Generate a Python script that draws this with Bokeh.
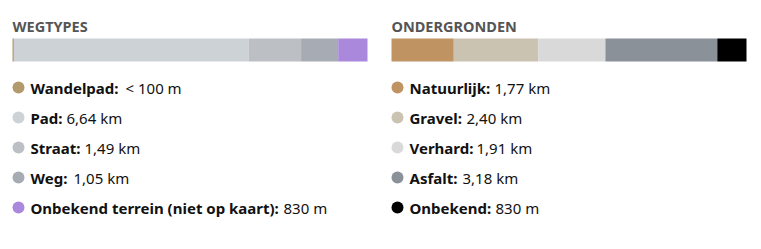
from bokeh.plotting import figure
from bokeh.models import Range1d, ColumnDataSource
from bokeh.core.properties import value
from bokeh.embed import file_html
from bokeh.resources import INLINE

# ---- data ----
weg_names = ["Wandelpad", "Pad", "Straat", "Weg", "Onbekend terrein (niet op kaart)"]
weg_km = [0.04, 6.64, 1.49, 1.05, 0.83]
weg_labels = ["< 100 m", "6,64 km", "1,49 km", "1,05 km", "830 m"]
weg_colors = ["#b39a6d", "#cdd2d7", "#bcc0c4", "#a7abb3", "#aa88dc"]

ond_names = ["Natuurlijk", "Gravel", "Verhard", "Asfalt", "Onbekend"]
ond_km = [1.77, 2.40, 1.91, 3.18, 0.83]
ond_labels = ["1,77 km", "2,40 km", "1,91 km", "3,18 km", "830 m"]
ond_colors = ["#c09362", "#cbc3b1", "#d9d9d9", "#8a9199", "#000000"]

titles = ["WEGTYPES", "ONDERGRONDEN"]

# ---- layout (pixels) ----
W, H = 761, 249
FONT = "Noto Sans"
panel_x = [12, 391]
bar_w = 355
bar_top, bar_bot = 38, 61
row_y = [87, 117, 147, 177, 207]
val_x = [[125, 66, 84, 73, 283], [494, 466, 476, 462, 495]]

p = figure(width=W, height=H, output_backend="svg", toolbar_location=None,
           x_range=Range1d(0, W), y_range=Range1d(H, 0), min_border=0,
           outline_line_color=None, background_fill_color="white",
           border_fill_color="white")
p.axis.visible = False
p.grid.visible = False

panels = [(weg_names, weg_km, weg_labels, weg_colors), (ond_names, ond_km, ond_labels, ond_colors)]
for i, (names, kms, labels, colors) in enumerate(panels):
    total = sum(kms)
    x0 = panel_x[i]
    start = -x0 * total / bar_w
    end = start + W * total / bar_w
    rn = f"km{i}"
    p.extra_x_ranges[rn] = Range1d(start, end)
    lefts, rights = [], []
    c = 0.0
    for k in kms:
        lefts.append(c)
        c += k
        rights.append(c)
    src = ColumnDataSource(dict(left=lefts, right=rights, color=colors))
    p.quad(left="left", right="right", top=bar_top, bottom=bar_bot, fill_color="color",
           line_color=None, source=src, x_range_name=rn)

    # title
    p.text(x=[x0], y=[25], text=[titles[i]], text_font=value(FONT), text_font_style="bold",
           text_font_size="14.5px", text_color="#555555", text_baseline="middle")

    # legend
    n = len(names)
    p.scatter(x=[x0 + 6] * n, y=row_y, size=12, color=colors, line_color=None)
    p.text(x=[x0 + 18] * n, y=row_y, text=[nm + ":" for nm in names], text_font=value(FONT),
           text_font_style="bold", text_font_size="15px", text_color="#111111",
           text_baseline="middle")
    p.text(x=val_x[i], y=row_y, text=labels, text_font=value(FONT),
           text_font_size="15px", text_color="#111111", text_baseline="middle")

open("out.html", "w").write(file_html(p, INLINE))
